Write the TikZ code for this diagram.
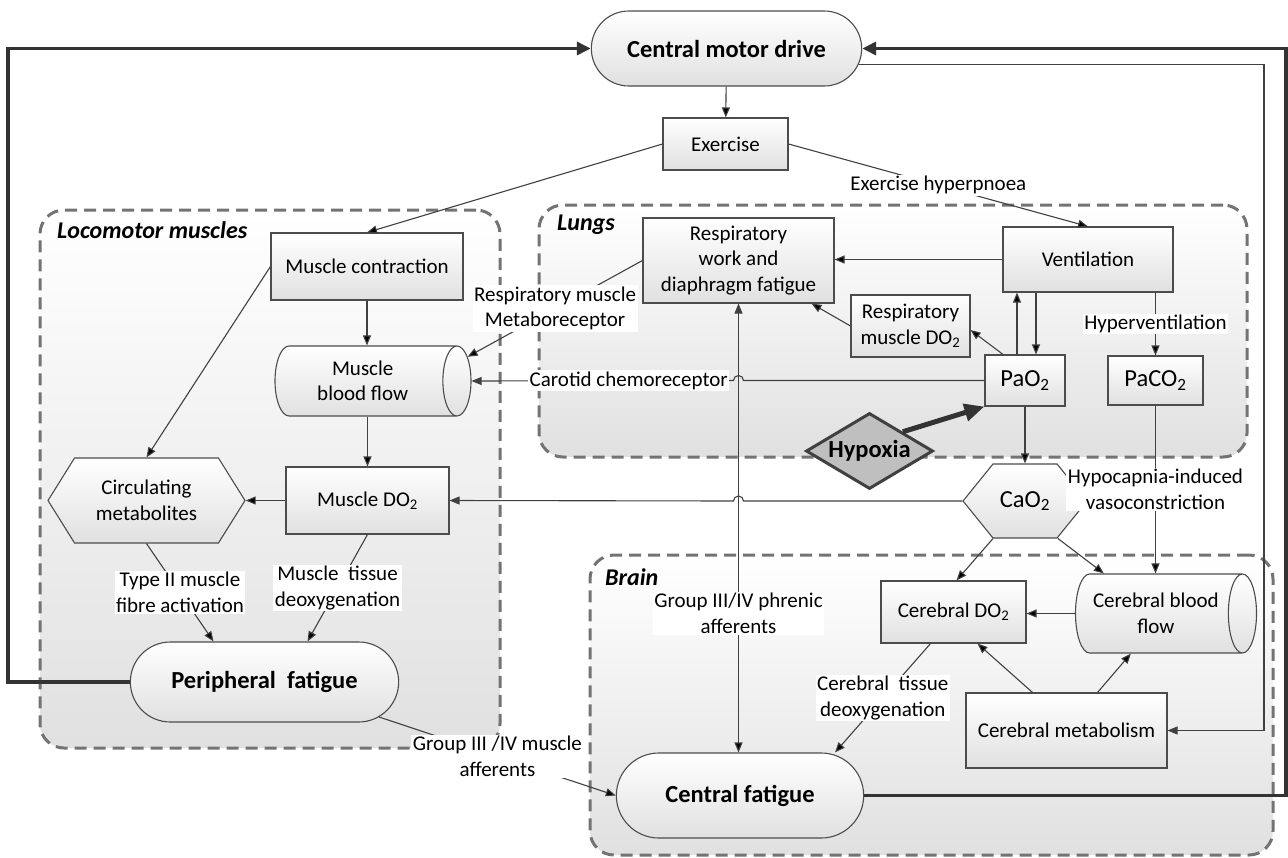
\documentclass[tikz,border=0pt]{standalone}
\usepackage{fontspec}
\setmainfont{Carlito}
\usetikzlibrary{arrows.meta,shapes.geometric,shapes.symbols,shapes.misc,calc}
\newcommand{\Otwo}{O\textsubscript{2}}

\begin{document}
\begin{tikzpicture}[x=1pt, y=-1pt, every node/.style={font=\fontsize{21}{25.5}\selectfont}]
			\tikzstyle{region}=[draw=black!55, line width=3pt, dash pattern=on 12pt off 7pt, rounded corners=24pt, top color=white, bottom color=black!12]
			\tikzstyle{regionname}=[anchor=west, inner sep=0pt, font=\fontsize{24}{28}\selectfont\bfseries\itshape]
			\tikzstyle{box}=[draw=black!70, line width=1.1pt, top color=white, bottom color=black!12, align=center]
			\tikzstyle{capsule}=[box, rounded rectangle, font=\fontsize{24.5}{29}\selectfont\bfseries]
			\tikzstyle{vessel}=[box, cylinder, shape border rotate=0, aspect=0.6, anchor=shape center]
			\tikzstyle{big}=[font=\fontsize{24.5}{29}\selectfont]
			\tikzstyle{lbl}=[fill=white, align=center, inner sep=1.5pt]
			\tikzstyle{arr}=[-{Triangle[length=10pt,width=8pt]}, line width=1.1pt, draw=black!75]
			\tikzstyle{loopline}=[-{Triangle[length=14pt,width=13pt]}, line width=3.5pt, draw=black!80]
			\useasboundingbox (0,0) rectangle (1288,857);
			\node[region, minimum width=460pt, minimum height=538pt] (loco) at (270,479) {};
			\node[region, minimum width=708pt, minimum height=252pt] (lungs) at (893,331) {};
			\node[region, minimum width=683pt, minimum height=300pt] (brain) at (931.5,705) {};
			\node[regionname] (loconame) at (57,230) {Locomotor muscles};
			\node[regionname] (lungsname) at (557,225) {Lungs};
			\node[regionname] (brainname) at (605,577) {Brain};
			\node[capsule, minimum width=277pt, minimum height=75pt] (drive) at (726.5,48.5) {Central motor drive};
			\node[box, minimum width=125pt, minimum height=52pt] (exercise) at (725.5,144) {Exercise};
			\node[box, minimum width=192pt, minimum height=67pt] (contraction) at (367,266.5) {Muscle contraction};
			\node[vessel, minimum width=70pt, minimum height=196pt] (mflow) at (373,381) {Muscle\\blood flow};
			\node[box, minimum width=163pt, minimum height=67pt] (mdo) at (367.5,500.5) {Muscle D\Otwo};
			\node[box, signal, signal to=west and east, signal pointer angle=116, minimum width=197pt, minimum height=85pt] (metab) at (146.5,500.5) {Circulating\\metabolites};
			\node[capsule, minimum width=275pt, minimum height=80pt] (pfatigue) at (264.5,682) {Peripheral\ \ fatigue};
			\node[capsule, minimum width=254pt, minimum height=85pt] (cfatigue) at (740,795.5) {Central fatigue};
			\node[box, minimum width=191pt, minimum height=85pt] (work) at (738.5,260.5) {Respiratory\\work and\\diaphragm fatigue};
			\node[box, minimum width=170pt, minimum height=65pt] (vent) at (1088,259.5) {Ventilation};
			\node[box, minimum width=119pt, minimum height=62pt] (rmdo) at (910.5,326) {Respiratory\\muscle D\Otwo};
			\node[box, big, minimum width=80pt, minimum height=51pt] (pao) at (1025,380.5) {Pa\Otwo};
			\node[box, big, minimum width=95pt, minimum height=49pt] (paco) at (1155.5,380.5) {PaC\Otwo};
			\node[diamond, draw=black!75, line width=3pt, fill=black!25, aspect=1.67, minimum width=127pt, minimum height=76pt, inner sep=0pt, font=\fontsize{24.5}{29}\selectfont\bfseries] (hypoxia) at (869.5,451) {Hypoxia};
			\node[box, big, signal, signal to=west and east, signal pointer angle=102, minimum width=124pt, minimum height=74pt] (cao) at (1025,501) {Ca\Otwo};
			\node[box, minimum width=145pt, minimum height=62pt] (cdo) at (953.5,612) {Cerebral D\Otwo};
			\node[vessel, minimum width=79pt, minimum height=181pt] (cflow) at (1166,613.5) {Cerebral blood\\flow};
			\node[box, minimum width=201pt, minimum height=75pt] (cmetab) at (1066.5,730.5) {Cerebral metabolism};
			\coordinate (leftrail) at (8,0);
			\coordinate (rightrail) at (1286,0);
			\coordinate (siderail) at (1264,0);
			\coordinate (hopA) at (work.south |- pao.west);
			\coordinate (hopB) at (work.south |- cao.west);
			\path[arr] (drive) edge (exercise)
			(exercise.west) edge (contraction.north)
			(exercise.east) edge node[lbl]{Exercise hyperpnoea} (vent.north)
			(contraction.south) edge (contraction.south |- mflow.north)
			(contraction.west) edge (metab.north)
			(mdo.north |- mflow.south) edge (mdo.north)
			(mdo.west) edge (metab.east)
			(metab.south) edge node[lbl]{Type II muscle\\fibre activation} ([xshift=-51pt]pfatigue.north)
			(mdo.south) edge node[lbl]{Muscle\ \ tissue\\deoxygenation} ([xshift=43pt]pfatigue.north)
			(pfatigue.-17) edge node[lbl]{Group III /IV muscle\\afferents} (cfatigue.west)
			(work.west) edge node[lbl]{Respiratory muscle\\Metaboreceptor} (mflow.13)
			(vent.west) edge (vent.west -| work.east)
			(rmdo.west) edge ([xshift=73pt]work.south)
			([xshift=-22pt]pao.north) edge ([yshift=-4pt]rmdo.east)
			([xshift=-8pt]pao.north) edge ([xshift=-8pt]pao.north |- vent.south)
			([xshift=11pt]pao.north |- vent.south) edge ([xshift=11pt]pao.north)
			(paco.north |- vent.south) edge node[lbl]{Hyperventilation} (paco.north)
			(paco.south) edge node[lbl]{Hypocapnia-induced\\vasoconstriction} (paco.south |- cflow.north)
			(pao.south) edge (cao.north)
			([xshift=-32pt]cao.south) edge ([xshift=3pt]cdo.north)
			([xshift=33pt]cao.south) edge ($(cflow.north)+(-52,0)$)
			(cflow.west) edge (cflow.west -| cdo.east)
			([xshift=-34pt]cmetab.north) edge ([xshift=24pt]cdo.south)
			([xshift=31pt]cmetab.north) edge ($(cflow.south)+(-25,0)$)
			([xshift=-23pt]cdo.south) edge node[lbl]{Cerebral\ \ tissue\\deoxygenation} ([xshift=95pt]cfatigue.north)
			(work.south) edge node[lbl, pos=0.69]{Group III/IV phrenic\\afferents} (work.south |- cfatigue.north);
			\draw[arr] (pao.west) -- ([xshift=5pt]hopA) arc[start angle=0, end angle=-180, radius=5] -- node[lbl, pos=0.4]{Carotid chemoreceptor} (mflow.east);
			\draw[arr] (cao.west) -- ([xshift=5pt]hopB) arc[start angle=0, end angle=-180, radius=5] -- (mdo.east);
			\draw[arr] (drive.-7.5) -| (siderail |- cmetab.east) -- (cmetab.east);
			\draw[loopline] (pfatigue.west) -- (pfatigue.west -| leftrail) |- (drive.west);
			\draw[loopline] (cfatigue.east) -- (cfatigue.east -| rightrail) |- (drive.east);
			\draw[-{Triangle[length=20pt,width=17pt]}, line width=5pt, draw=black!80] (hypoxia.30) -- (pao.south west);
			\end{tikzpicture}
\end{document}
